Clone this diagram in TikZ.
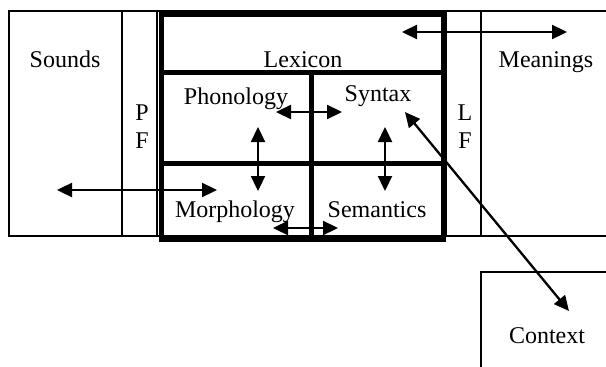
\documentclass[tikz,border=0pt]{standalone}
\usepackage{fontspec}
\setmainfont{Liberation Serif}
\usetikzlibrary{arrows.meta}
\begin{document}
\begin{tikzpicture}[x=1pt,y=-1pt,
  thin box/.style={line width=1.3pt},
  thick box/.style={line width=5pt},
  dblarrow/.style={line width=2.3pt,{Triangle[length=15pt,width=14pt]}-{Triangle[length=15pt,width=14pt]}},
  lbl/.style={font=\fontsize{24}{28}\selectfont,inner sep=0pt,anchor=base}]
\useasboundingbox (0,0) rectangle (606,367);
% thin frame
\draw[thin box] (606,11) -- (9,11) -- (9,236) -- (606,236);
\draw[thin box] (122,11) -- (122,236);
\draw[thin box] (157,11) -- (157,236);
\draw[thin box] (446,11) -- (446,236);
\draw[thin box] (481,11) -- (481,236);
% context box
\draw[thin box] (481,367) -- (481,272) -- (606,272);
% thick box
\draw[thick box] (161,14) rectangle (443,239);
\draw[thick box] (161,72) -- (443,72);
\draw[thick box] (161,163) -- (443,163);
\draw[thick box] (311,72) -- (311,239);
% labels
\node[lbl] (sounds) at (65,67) {Sounds};
\node[lbl] (lexicon) at (303,67) {Lexicon};
\node[lbl] (meanings) at (546,67) {Meanings};
\node[lbl] (phon) at (236,104) {Phonology};
\node[lbl] (syn) at (378,101) {Syntax};
\node[lbl] (morph) at (235,217) {Morphology};
\node[lbl] (sem) at (377,217) {Semantics};
\node[lbl] (p) at (142,120) {P};
\node[lbl] (f1) at (142,148) {F};
\node[lbl] (l) at (465,120) {L};
\node[lbl] (f2) at (465,148) {F};
\node[lbl] (context) at (547,343) {Context};
% arrow endpoints
\coordinate (a1) at (402,32); \coordinate (a2) at (567,32);
\coordinate (b1) at (276,112); \coordinate (b2) at (342,112);
\coordinate (c1) at (258,127); \coordinate (c2) at (258,191);
\coordinate (d1) at (385,127); \coordinate (d2) at (385,191);
\coordinate (e1) at (273,228); \coordinate (e2) at (338,228);
\coordinate (g1) at (57,190); \coordinate (g2) at (217,190);
\coordinate (h1) at (405,112); \coordinate (h2) at (569,311);
\draw[dblarrow] (a1) -- (a2);
\draw[dblarrow] (b1) -- (b2);
\draw[dblarrow] (c1) -- (c2);
\draw[dblarrow] (d1) -- (d2);
\draw[dblarrow] (e1) -- (e2);
\draw[dblarrow] (g1) -- (g2);
\draw[dblarrow] (h1) -- (h2);
\end{tikzpicture}
\end{document}
